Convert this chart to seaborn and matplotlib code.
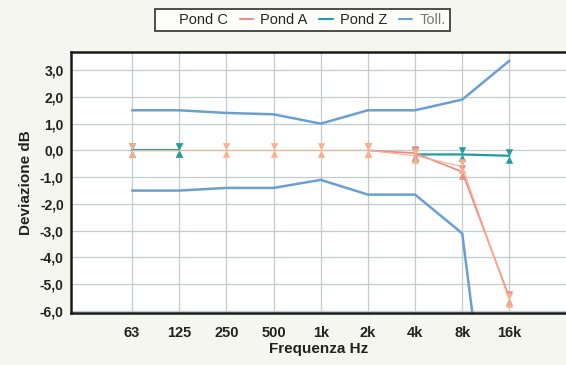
import numpy as np
import pandas as pd
import seaborn as sns
import matplotlib.pyplot as plt
from matplotlib.path import Path
from matplotlib.lines import Line2D

# Data
freqs = ["63", "125", "250", "500", "1k", "2k", "4k", "8k", "16k"]
pond_c = [0.0, 0.0, 0.0, 0.0, 0.0, 0.0, -0.2, -0.6, -5.6]
pond_a = [np.nan, np.nan, np.nan, np.nan, np.nan, 0.0, -0.1, -0.8, -5.5]
pond_z = [0.0, 0.0, np.nan, np.nan, np.nan, np.nan, -0.15, -0.15, -0.2]
toll_upper = [1.5, 1.5, 1.4, 1.35, 1.0, 1.5, 1.5, 1.9, 3.35]
toll_lower = [-1.5, -1.5, -1.4, -1.4, -1.1, -1.65, -1.65, -3.1, -17.0]

col_c = "#f7b08c"
col_a = "#ee8c8c"
col_z = "#1f9c9f"
col_toll = "#6a9fd6"

sns.set_theme(style="white")
plt.rcParams["font.family"] = ["Liberation Sans", "DejaVu Sans"]

df = pd.DataFrame({
    "pos": np.arange(len(freqs)),
    "Pond C": pond_c, "Pond A": pond_a, "Pond Z": pond_z,
    "toll_up": toll_upper, "toll_lo": toll_lower,
})
# segment ids so that gaps in Pond Z are not bridged
df["z_seg"] = df["Pond Z"].isna().cumsum()

# bowtie marker: triangle down above, triangle up below
bowtie = Path([(-0.5, 1), (0.5, 1), (0, 0), (0.5, -1), (-0.5, -1), (0, 0), (-0.5, 1)],
              [Path.MOVETO, Path.LINETO, Path.LINETO, Path.LINETO, Path.LINETO, Path.LINETO, Path.CLOSEPOLY])
msize = 10.5

fig = plt.figure(figsize=(5.66, 3.65), dpi=100)
fig.patch.set_facecolor("#f6f6f1")
ax = fig.add_axes([0.125, 0.142, 0.875, 0.715])
ax.set_facecolor("white")

sns.lineplot(data=df, x="pos", y="toll_up", color=col_toll, lw=1.8, ax=ax)
sns.lineplot(data=df, x="pos", y="toll_lo", color=col_toll, lw=1.8, ax=ax)
sns.lineplot(data=df, x="pos", y="Pond Z", units="z_seg", estimator=None, color=col_z,
             lw=1.6, marker=bowtie, markersize=msize, markeredgewidth=0, ax=ax)
sns.lineplot(data=df, x="pos", y="Pond A", color=col_a, lw=1.3, marker=bowtie,
             markersize=msize, markeredgewidth=0, ax=ax)
sns.lineplot(data=df, x="pos", y="Pond C", color=col_c, lw=0.8, marker=bowtie,
             markersize=msize, markeredgewidth=0, ax=ax)
# teal marker at 125 shows on top
ax.plot(1, pond_z[1], marker=bowtie, color=col_z, markersize=msize, mew=0, zorder=5)

ax.set_xlim(-1.3, 9.2)
ax.set_ylim(-6.08, 3.67)
ax.set_xticks(np.arange(len(freqs)))
ax.set_xticklabels(freqs)
yt = np.arange(-6, 4)
ax.set_yticks(yt)
ax.set_yticklabels([f"{v:.1f}".replace(".", ",") for v in yt])
ax.grid(True, color="#c3cccc", lw=0.9)
ax.tick_params(axis="y", labelsize=10, colors="#222222", length=0, pad=5)
ax.tick_params(axis="x", labelsize=10.5, colors="#222222", length=3, pad=6,
               direction="out")
for lab in ax.get_xticklabels() + ax.get_yticklabels():
    lab.set_fontweight("bold")

ax.set_xlabel("Frequenza Hz", fontsize=11, fontweight="bold", color="#222222", labelpad=2)
ax.set_ylabel("Deviazione dB", fontsize=11, fontweight="bold", color="#222222", labelpad=5)

for side in ["left", "bottom", "top"]:
    ax.spines[side].set_color("#1a1a1a")
    ax.spines[side].set_linewidth(1.8)
ax.spines["right"].set_visible(False)

handles = [Line2D([], [], color=c, lw=1.5) for c in ["white", col_a, col_z, col_toll]]
leg = fig.legend(handles, ["Pond C", "Pond A", "Pond Z", "Toll."], loc="center",
                 bbox_to_anchor=(0.534, 0.945), ncol=4, fontsize=10.5, frameon=True,
                 fancybox=False, handlelength=0.9, handletextpad=0.5, columnspacing=0.8,
                 borderpad=0.3)
leg.get_frame().set_edgecolor("#111111")
leg.get_frame().set_linewidth(1.3)
leg.get_frame().set_facecolor("white")
leg.get_texts()[3].set_color("#777777")

fig.savefig("out.png", dpi=100, facecolor=fig.get_facecolor())
